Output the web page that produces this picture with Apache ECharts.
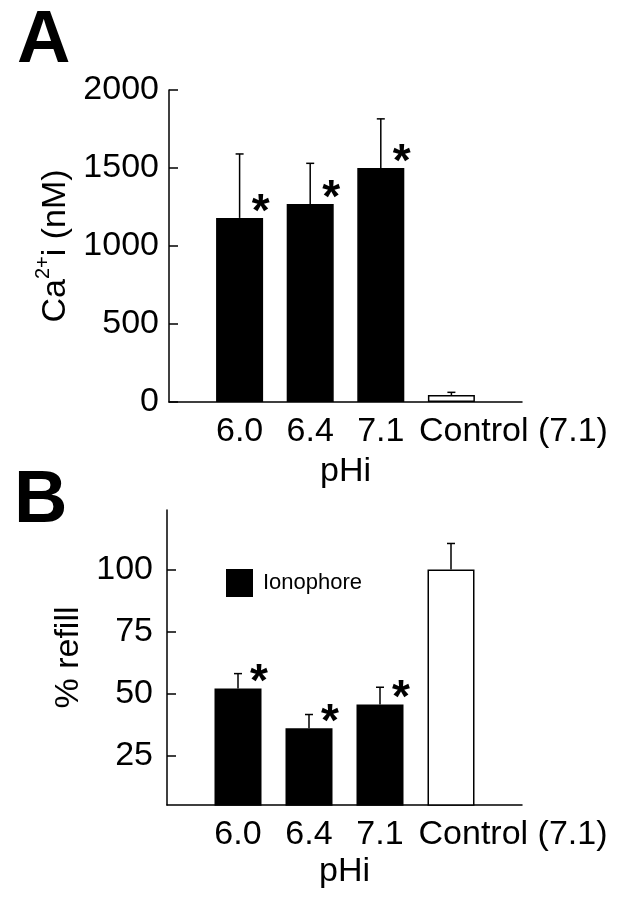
<!DOCTYPE html>
<html>
<head>
<meta charset="utf-8">
<script src="https://cdn.jsdelivr.net/npm/echarts@6/dist/echarts.min.js"></script>
<style>
html,body{margin:0;padding:0;background:#fff;}
#c{width:618px;height:900px;}
</style>
</head>
<body>
<div id="c"></div>
<script>
// ---- data ----
const categories = ['6.0', '6.4', '7.1', 'Control (7.1)'];
const categoryPositions = [1, 2, 3, 4];
const caValues = [1180, 1270, 1500, 45];
const caErrors = [410, 260, 315, 17];
const refillValues = [52, 36, 45.5, 100];
const refillErrors = [6, 5.5, 7, 10.5];
const significant = [true, true, true, false];
const caTicks = [0, 500, 1000, 1500, 2000];
const refillTicks = [25, 50, 75, 100];
const barColors = ['#000', '#000', '#000', '#fff'];

const FONT = '"Liberation Sans", Arial, Helvetica, sans-serif';

function barData(values) {
  return values.map((v, i) => ({
    value: [categoryPositions[i], v],
    itemStyle: { color: barColors[i], borderColor: '#000', borderWidth: 1.5 }
  }));
}
function errData(values, errs) {
  return values.map((v, i) => [categoryPositions[i], v, errs[i], significant[i] ? 1 : 0]);
}
function renderErr(params, api) {
  const x = api.value(0), v = api.value(1), e = api.value(2), sig = api.value(3);
  const p0 = api.coord([x, v]);
  const p1 = api.coord([x, v + e]);
  const style = { stroke: '#000', lineWidth: 1.5 };
  const children = [
    { type: 'line', shape: { x1: p0[0], y1: p0[1], x2: p1[0], y2: p1[1] }, style: style },
    { type: 'line', shape: { x1: p1[0] - 4, y1: p1[1], x2: p1[0] + 4, y2: p1[1] }, style: style }
  ];
  if (sig) {
    children.push({
      type: 'text',
      x: p0[0] + 21, y: p0[1] - 5,
      style: { text: '*', font: 'bold 46px ' + FONT, fill: '#000', align: 'center', verticalAlign: 'middle' }
    });
  }
  return { type: 'group', children: children };
}
function xLabel(val) {
  const i = categoryPositions.indexOf(val);
  if (i < 0) return '';
  if (i === 3) return '{c|' + categories[i] + '}';
  return categories[i];
}
function xAxisFor(grid, gap) {
  return {
    gridIndex: grid,
    type: 'value', min: 0, max: 5, interval: 1,
    axisLine: { show: true, onZero: false, lineStyle: { color: '#000', width: 1.5 } },
    axisTick: { show: false },
    splitLine: { show: false },
    axisLabel: {
      formatter: xLabel, color: '#000', fontSize: 34, fontFamily: FONT, margin: 13,
      showMinLabel: true, showMaxLabel: true,
      rich: { c: { fontSize: 34, fontFamily: FONT, color: '#000', padding: [0, 0, 0, 124] } }
    },
    name: 'pHi', nameLocation: 'middle', nameGap: gap,
    nameTextStyle: { color: '#000', fontSize: 34, fontFamily: FONT }
  };
}
const plain = v => String(v);

const chart = echarts.init(document.getElementById('c'), null, { renderer: 'canvas' });
chart.setOption({
  animation: false,
  backgroundColor: '#fff',
  title: [
    { text: 'A', left: 12, top: 0, textStyle: { fontSize: 74, fontWeight: 'bold', fontFamily: FONT, color: '#000' } },
    { text: 'B', left: 9, top: 460, textStyle: { fontSize: 74, fontWeight: 'bold', fontFamily: FONT, color: '#000' } }
  ],
  legend: {
    data: ['Ionophore'], left: 221, top: 564, itemWidth: 27, itemHeight: 28, icon: 'rect',
    selectedMode: false,
    textStyle: { fontSize: 22, fontFamily: FONT, color: '#000', padding: [0, 0, 0, 5] }
  },
  grid: [
    { left: 169, right: 96, top: 90, bottom: 498 },
    { left: 167, right: 96, top: 510, bottom: 95 }
  ],
  xAxis: [ xAxisFor(0, 53), xAxisFor(1, 50) ],
  yAxis: [
    {
      gridIndex: 0, type: 'value', min: caTicks[0], max: caTicks[caTicks.length - 1], interval: 500,
      axisLine: { show: true, lineStyle: { color: '#000', width: 1.5 } },
      axisTick: { show: true, inside: true, length: 9, lineStyle: { color: '#000', width: 1.5 } },
      splitLine: { show: false },
      axisLabel: { color: '#000', fontSize: 34, fontFamily: FONT, margin: 10, formatter: plain },
      name: '{n|Ca}{s|2+}{n|i (nM)}', nameLocation: 'middle', nameRotate: 90, nameGap: 90,
      nameTextStyle: {
        color: '#000', fontSize: 34, fontFamily: FONT,
        rich: {
          n: { fontSize: 34, fontFamily: FONT, color: '#000', lineHeight: 44 },
          s: { fontSize: 20, fontFamily: FONT, color: '#000', lineHeight: 20, verticalAlign: 'top' }
        }
      }
    },
    {
      gridIndex: 1, type: 'value', min: 5, max: 124,
      axisLine: { show: true, lineStyle: { color: '#000', width: 1.5 } },
      axisTick: { show: true, inside: true, length: 9, customValues: refillTicks, lineStyle: { color: '#000', width: 1.5 } },
      splitLine: { show: false },
      axisLabel: { color: '#000', fontSize: 34, fontFamily: FONT, margin: 14, customValues: refillTicks, formatter: plain },
      name: '% refill', nameLocation: 'middle', nameRotate: 90, nameGap: 77,
      nameTextStyle: { color: '#000', fontSize: 34, fontFamily: FONT }
    }
  ],
  series: [
    {
      name: 'Ca', type: 'bar', xAxisIndex: 0, yAxisIndex: 0, barWidth: 47,
      itemStyle: { color: '#000' }, data: barData(caValues)
    },
    {
      type: 'custom', xAxisIndex: 0, yAxisIndex: 0, renderItem: renderErr,
      data: errData(caValues, caErrors), z: 5
    },
    {
      name: 'Ionophore', type: 'bar', xAxisIndex: 1, yAxisIndex: 1, barWidth: 47,
      itemStyle: { color: '#000' }, data: barData(refillValues)
    },
    {
      type: 'custom', xAxisIndex: 1, yAxisIndex: 1, renderItem: renderErr,
      data: errData(refillValues, refillErrors), z: 5
    }
  ]
});
</script>
</body>
</html>
